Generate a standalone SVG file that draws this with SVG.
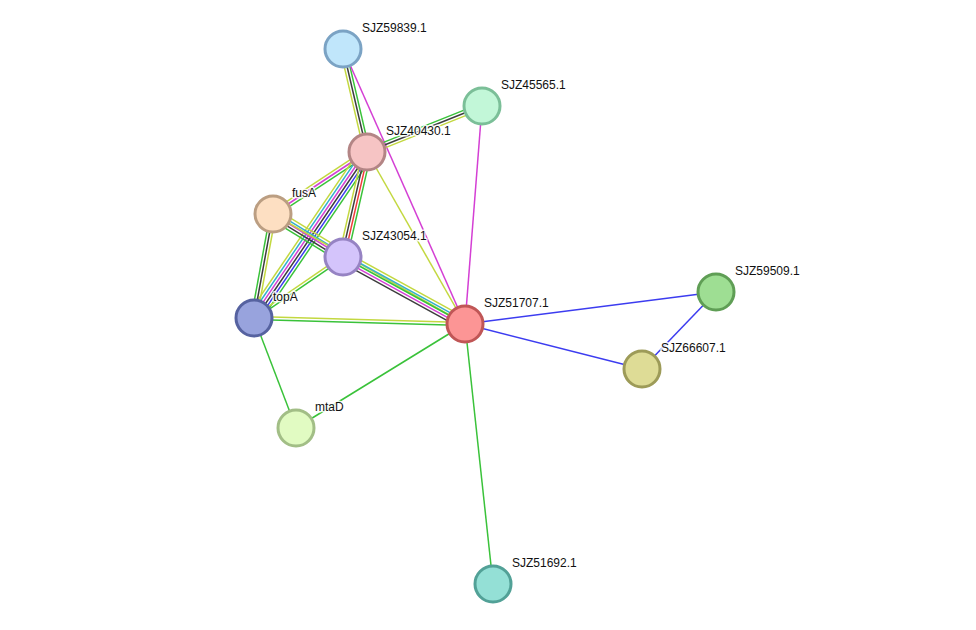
<svg xmlns="http://www.w3.org/2000/svg" width="976" height="630" viewBox="0 0 976 630">
<style>
line{stroke-width:1.5;fill:none}
.g{stroke:#3ac23a}.y{stroke:#c3d840}.k{stroke:#3d3d3d}.m{stroke:#d43fd4}.c{stroke:#33b0cc}.b{stroke:#3c3cf0}.r{stroke:#f03c3c}
circle{stroke-width:3}
text{font-family:"Liberation Sans",Arial,sans-serif;font-size:12px;fill:#111;stroke:#fff;stroke-width:3;stroke-opacity:0.85;paint-order:stroke;stroke-linejoin:round}
</style>
<rect width="976" height="630" fill="#fff"/>
<g id="connectors">
<!-- SJZ59839 - SJZ40430 -->
<g transform="translate(343,49) rotate(76.88)"><line class="g" x1="0" y1="-2.8" x2="105.76" y2="-2.8"/><line class="k" x1="0" y1="0" x2="105.76" y2="0"/><line class="y" x1="0" y1="2.8" x2="105.76" y2="2.8"/></g>
<line class="m" x1="343" y1="49" x2="465" y2="324"/>
<!-- SJZ45565 - SJZ40430 -->
<g transform="translate(482,106) rotate(158.2)"><line class="g" x1="0" y1="2.8" x2="123.86" y2="2.8"/><line class="k" x1="0" y1="0" x2="123.86" y2="0"/><line class="y" x1="0" y1="-2.8" x2="123.86" y2="-2.8"/></g>
<line class="m" x1="482" y1="106" x2="465" y2="324"/>
<!-- SJZ40430 - fusA -->
<g transform="translate(367,152) rotate(146.59)"><line class="y" x1="0" y1="2.8" x2="112.6" y2="2.8"/><line class="m" x1="0" y1="0" x2="112.6" y2="0"/><line class="g" x1="0" y1="-2.8" x2="112.6" y2="-2.8"/></g>
<!-- SJZ40430 - topA -->
<g transform="translate(367,152) rotate(124.24)"><line class="y" x1="0" y1="7" x2="200.81" y2="7"/><line class="c" x1="0" y1="4.2" x2="200.81" y2="4.2"/><line class="m" x1="0" y1="1.4" x2="200.81" y2="1.4"/><line class="k" x1="0" y1="-1.4" x2="200.81" y2="-1.4"/><line class="b" x1="0" y1="-4.2" x2="200.81" y2="-4.2"/><line class="g" x1="0" y1="-7" x2="200.81" y2="-7"/></g>
<!-- SJZ40430 - SJZ43054 -->
<g transform="translate(367,152) rotate(102.88)"><line class="y" x1="0" y1="4.2" x2="107.7" y2="4.2"/><line class="k" x1="0" y1="1.4" x2="107.7" y2="1.4"/><line class="r" x1="0" y1="-1.4" x2="107.7" y2="-1.4"/><line class="g" x1="0" y1="-4.2" x2="107.7" y2="-4.2"/></g>
<line class="y" x1="367" y1="152" x2="465" y2="324"/>
<!-- fusA - SJZ43054 -->
<g transform="translate(273,214) rotate(31.56)"><line class="y" x1="0" y1="-5.6" x2="82.15" y2="-5.6"/><line class="c" x1="0" y1="-2.8" x2="82.15" y2="-2.8"/><line class="m" x1="0" y1="0" x2="82.15" y2="0"/><line class="k" x1="0" y1="2.8" x2="82.15" y2="2.8"/><line class="g" x1="0" y1="5.6" x2="82.15" y2="5.6"/></g>
<line class="y" x1="273" y1="214" x2="465" y2="324"/>
<!-- fusA - topA -->
<g transform="translate(273,214) rotate(100.35)"><line class="y" x1="0" y1="-2.8" x2="105.72" y2="-2.8"/><line class="k" x1="0" y1="0" x2="105.72" y2="0"/><line class="g" x1="0" y1="2.8" x2="105.72" y2="2.8"/></g>
<!-- SJZ43054 - topA -->
<g transform="translate(343,257) rotate(145.57)"><line class="y" x1="0" y1="1.4" x2="107.9" y2="1.4"/><line class="g" x1="0" y1="-1.4" x2="107.9" y2="-1.4"/></g>
<!-- SJZ43054 - SJZ51707 -->
<g transform="translate(343,257) rotate(28.77)"><line class="y" x1="0" y1="-5.6" x2="139.19" y2="-5.6"/><line class="c" x1="0" y1="-2.8" x2="139.19" y2="-2.8"/><line class="g" x1="0" y1="0" x2="139.19" y2="0"/><line class="m" x1="0" y1="2.8" x2="139.19" y2="2.8"/><line class="k" x1="0" y1="5.6" x2="139.19" y2="5.6"/></g>
<!-- topA - SJZ51707 -->
<g transform="translate(254,318) rotate(1.63)"><line class="y" x1="0" y1="-1.4" x2="211.09" y2="-1.4"/><line class="g" x1="0" y1="1.4" x2="211.09" y2="1.4"/></g>
<line class="g" x1="254" y1="318" x2="296" y2="428"/>
<line class="g" x1="296" y1="428" x2="465" y2="324"/>
<line class="g" x1="465" y1="324" x2="493" y2="584"/>
<line class="b" x1="465" y1="324" x2="716" y2="292"/>
<line class="b" x1="465" y1="324" x2="642" y2="369"/>
<line class="b" x1="716" y1="292" x2="642" y2="369"/>
</g>
<g id="n_SJZ59839"><circle cx="343" cy="49" r="18" fill="#c0e6fb" stroke="#7ba3c4"/><text x="362" y="32">SJZ59839.1</text></g>
<g id="n_SJZ45565"><circle cx="482" cy="106" r="18" fill="#c2f7d8" stroke="#7bbf98"/><text x="501" y="89">SJZ45565.1</text></g>
<g id="n_SJZ40430"><circle cx="367" cy="152" r="18" fill="#f6c4c4" stroke="#b38585"/><text x="386" y="135">SJZ40430.1</text></g>
<g id="n_fusA"><circle cx="273" cy="214" r="18" fill="#fddfc2" stroke="#bb9e82"/><text x="292" y="197">fusA</text></g>
<g id="n_SJZ43054"><circle cx="343" cy="257" r="18" fill="#d4c4fb" stroke="#9683c3"/><text x="362" y="240">SJZ43054.1</text></g>
<g id="n_topA"><circle cx="254" cy="318" r="18" fill="#98a3dd" stroke="#5662a0"/><text x="273" y="301">topA</text></g>
<g id="n_SJZ51707"><circle cx="465" cy="324" r="18" fill="#fc9595" stroke="#c05656"/><text x="484" y="307">SJZ51707.1</text></g>
<g id="n_SJZ59509"><circle cx="716" cy="292" r="18" fill="#9ede93" stroke="#5f9e55"/><text x="735" y="275">SJZ59509.1</text></g>
<g id="n_SJZ66607"><circle cx="642" cy="369" r="18" fill="#dedc96" stroke="#9d9b58"/><text x="661" y="352">SJZ66607.1</text></g>
<g id="n_mtaD"><circle cx="296" cy="428" r="18" fill="#e1fbc2" stroke="#a2be86"/><text x="315" y="411">mtaD</text></g>
<g id="n_SJZ51692"><circle cx="493" cy="584" r="18" fill="#94e0d6" stroke="#52a197"/><text x="512" y="567">SJZ51692.1</text></g>
</svg>
